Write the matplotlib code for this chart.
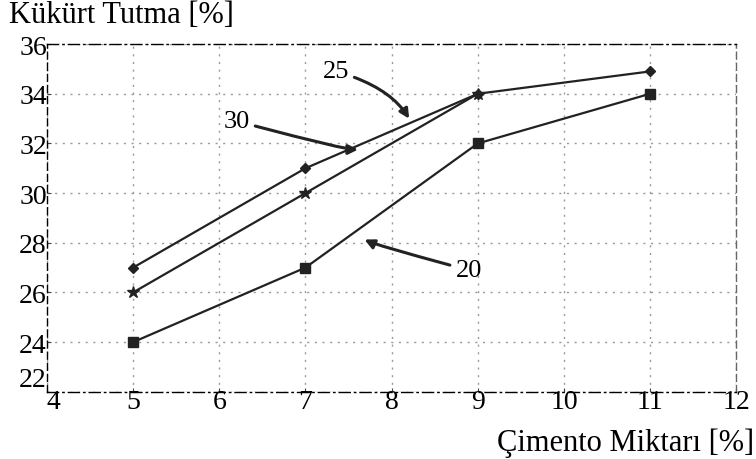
import matplotlib
matplotlib.use("Agg")
import matplotlib.pyplot as plt

# values
x_25 = [5, 7, 9, 11]
y_25 = [27, 31, 34, 34.9]
x_30 = [5, 7, 9]
y_30 = [26, 30, 34]
x_20 = [5, 7, 9, 11]
y_20 = [24, 27, 32, 34]

x_ticks = [4, 5, 6, 7, 8, 9, 10, 11, 12]
y_ticks = [22, 24, 26, 28, 30, 32, 34, 36]

plt.rcParams["font.family"] = ["Liberation Serif", "DejaVu Serif"]

fig = plt.figure(figsize=(7.56, 4.60), dpi=100)
ax = fig.add_axes([0.062, 0.146, 0.912, 0.756])

ax.plot(x_25, y_25, color="#222222", lw=1.6, marker="D", ms=5)
ax.plot(x_30, y_30, color="#222222", lw=1.6, marker="*", ms=9)
ax.plot(x_20, y_20, color="#222222", lw=1.6, marker="s", ms=7)

ax.set_xlim(4, 12)
ax.set_ylim(22, 36)
ax.set_xticks(x_ticks)
ax.set_yticks(y_ticks)
ax.grid(True, color="#999999", linestyle=(0, (1.5, 4)), lw=1.0)
ax.tick_params(labelsize=20, length=3, direction="in", pad=0, color="#444444")
ax.tick_params(axis="x", pad=-2)

# lowest y label sits a bit above the corner, as in the scan
ylabels = ax.get_yticklabels()
ylabels[0].set_verticalalignment("bottom")
xlabels = ax.get_xticklabels()
xlabels[0].set_horizontalalignment("left")

for side in ("top", "bottom"):
    ax.spines[side].set_linestyle((0, (8, 3, 1, 3)))
for side in ("left", "right"):
    ax.spines[side].set_linestyle((0, (5, 3)))
ax.spines["right"].set_color("#666666")
for s in ax.spines.values():
    s.set_linewidth(1.0)

arrow = dict(arrowstyle="-|>", color="#222222", lw=2.2, mutation_scale=14,
             connectionstyle="angle3,angleA=-15,angleB=-60")
ax.annotate("25", xy=(8.22, 32.9), xytext=(7.2, 34.9), fontsize=19,
            arrowprops=arrow, va="center", ha="left")
ax.annotate("30", xy=(7.64, 31.8), xytext=(6.05, 32.9), fontsize=19,
            arrowprops=arrow, va="center", ha="left")
ax.annotate("20", xy=(7.66, 28.2), xytext=(8.74, 26.9), fontsize=19,
            arrowprops=dict(arrowstyle="-|>", color="#222222", lw=2.2, mutation_scale=14,
                            connectionstyle="angle3,angleA=-15,angleB=60"),
            va="center", ha="left")

fig.text(0.012, 0.998, "Kükürt Tutma [%]", fontsize=22, va="top", ha="left")
fig.text(0.998, 0.005, "Çimento Miktarı [%]", fontsize=22, va="bottom", ha="right")

fig.savefig("out.png", dpi=100)
